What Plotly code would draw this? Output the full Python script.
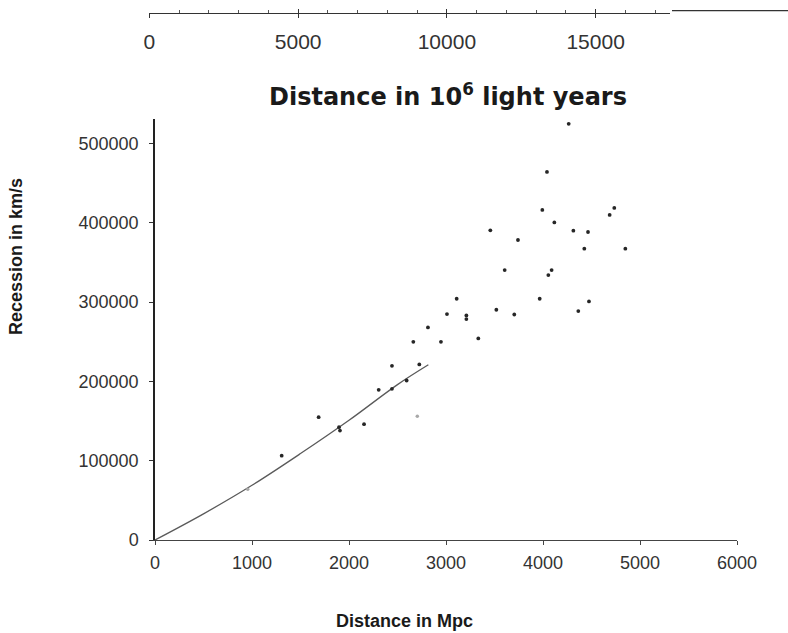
import plotly.graph_objects as go

# ---- data (Mpc, km/s) ----
dist_mpc = [1306, 1687, 1897, 1907, 2155, 2306, 2443, 2443, 2594, 2725,
            2663, 2948, 2814, 3010, 3210, 3210, 3333, 3519, 3704, 3110,
            3966, 4474, 4364, 3605, 4089, 4055, 3742, 4426, 4849, 3457,
            4313, 4464, 4117, 3993, 4735, 4687, 4041, 4265]
recession = [106400, 154900, 142300, 138000, 146100, 189400, 219700, 190700, 201200, 221400,
             250000, 250000, 268100, 284900, 283200, 278600, 254200, 290400, 284400, 304300,
             304300, 300900, 288700, 340500, 340500, 334200, 378400, 367400, 367400, 390600,
             390100, 388500, 400600, 416300, 418800, 410000, 464300, 524900]
faint_mpc = [956, 2704]
faint_rec = [64000, 156200]
fit_mpc = [0, 500, 1000, 1500, 2000, 2500, 2818]
fit_rec = [0, 33000, 69000, 109000, 151000, 196000, 221000]

bottom_ticks = [0, 1000, 2000, 3000, 4000, 5000, 6000]
y_ticks = [0, 100000, 200000, 300000, 400000, 500000]
ly_major = [0, 5000, 10000, 15000]

W, H = 788, 633
def px(x):
    return x / W
def py(y):
    return 1 - y / H

fig = go.Figure()
fig.add_trace(go.Scatter(x=fit_mpc, y=fit_rec, mode="lines",
                         line=dict(color="#5a5a5a", width=1.3, shape="spline"),
                         hoverinfo="skip", showlegend=False))
fig.add_trace(go.Scatter(x=dist_mpc, y=recession, mode="markers",
                         marker=dict(size=3.8, color="#262626"), showlegend=False))
fig.add_trace(go.Scatter(x=faint_mpc, y=faint_rec, mode="markers",
                         marker=dict(size=3.5, color="#a8a8a8"), showlegend=False))
# invisible traces to realize the top light-year axis
fig.add_trace(go.Scatter(x=[0, 17500], y=[0, 1], mode="markers", xaxis="x2", yaxis="y2",
                         marker=dict(opacity=0), hoverinfo="skip", showlegend=False))
fig.add_trace(go.Scatter(x=[0, 17500], y=[0, 1], mode="markers", xaxis="x3", yaxis="y2",
                         marker=dict(opacity=0), hoverinfo="skip", showlegend=False))

tickfont = dict(family="Liberation Sans, Arial, sans-serif", size=18, color="#333333")

fig.update_layout(
    width=W, height=H,
    margin=dict(l=0, r=0, t=0, b=0),
    paper_bgcolor="white", plot_bgcolor="white",
    showlegend=False,
    xaxis=dict(domain=[px(155), px(737)], range=[0, 6000], tickvals=bottom_ticks,
               showline=True, linecolor="#444444", linewidth=1.2,
               ticks="outside", ticklen=4, tickcolor="#444444",
               showgrid=False, zeroline=False, tickfont=tickfont,
               ticklabelstandoff=2, automargin=False),
    yaxis=dict(domain=[py(540), py(119)], range=[0, 531000], tickvals=y_ticks,
               tickformat="d",
               showline=True, linecolor="#222222", linewidth=1.5,
               ticks="outside", ticklen=4, tickcolor="#333333",
               showgrid=False, zeroline=False, tickfont=tickfont,
               ticklabelstandoff=7, automargin=False),
    xaxis2=dict(domain=[px(149.4), px(670)], range=[0, 17500], anchor="y2",
                tickvals=ly_major, ticktext=[str(v) for v in ly_major],
                showline=True, linecolor="#333333", linewidth=1.2,
                ticks="inside", ticklen=4, tickcolor="#333333",
                minor=dict(dtick=1000, ticks="inside", ticklen=3, tickcolor="#555555"),
                showgrid=False, zeroline=False,
                tickfont=dict(family="Liberation Sans, Arial, sans-serif", size=21, color="#333333"),
                ticklabelstandoff=10, automargin=False),
    xaxis3=dict(overlaying="x2", anchor="y2", range=[0, 17500], tickvals=ly_major,
                showticklabels=False, showline=False, ticks="outside", ticklen=4,
                tickcolor="#333333", showgrid=False, zeroline=False, automargin=False),
    yaxis2=dict(domain=[py(13), py(4)], range=[0, 1], visible=False),
    annotations=[
        dict(text="Distance in 10<sup>6</sup> light years", x=px(448), y=py(95),
             xref="paper", yref="paper", showarrow=False, xanchor="center", yanchor="middle",
             font=dict(family="DejaVu Sans", size=24, color="#1a1a1a", weight="bold")),
        dict(text="Recession in km/s", x=px(16), y=py(257), textangle=-90,
             xref="paper", yref="paper", showarrow=False, xanchor="center", yanchor="middle",
             font=dict(family="Liberation Sans, Arial", size=18, color="#1a1a1a", weight="bold")),
        dict(text="Distance in Mpc", x=px(404), y=py(621),
             xref="paper", yref="paper", showarrow=False, xanchor="center", yanchor="middle",
             font=dict(family="Liberation Sans, Arial", size=18, color="#1a1a1a", weight="bold")),
    ],
    shapes=[
        dict(type="line", xref="paper", yref="paper", x0=px(672), x1=1.0, y0=py(10.7), y1=py(10.7),
             line=dict(color="#333333", width=1.2)),
    ],
)

fig.write_html("out.html", config={"displayModeBar": False},
               post_script="document.body.style.margin='0px';document.body.style.padding='0px';document.documentElement.style.overflow='hidden';")
